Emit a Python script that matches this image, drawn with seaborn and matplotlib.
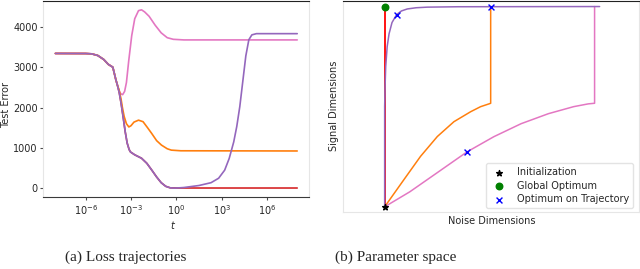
import numpy as np
import pandas as pd
import seaborn as sns
import matplotlib.pyplot as plt

sns.set_style("white")
plt.rcParams['font.family'] = ['DejaVu Sans']
plt.rcParams['font.size'] = 7

# ---- (a) loss trajectories: log10(t) and test error ----
common_logt = [-8.0, -6.0, -5.6, -5.2, -4.8, -4.5, -4.2, -4.0, -3.9]
common_err = [3340, 3338, 3330, 3290, 3190, 3070, 3000, 2690, 2560]

pink_logt = [-3.8, -3.67, -3.55, -3.42, -3.3, -3.15, -2.95, -2.75, -2.5, -2.3,
             -2.1, -1.8, -1.4, -1.0, -0.6, -0.2, 0.5, 8.0]
pink_err = [2420, 2340, 2320, 2400, 2620, 3150, 3780, 4200, 4400, 4420,
            4370, 4260, 4040, 3850, 3730, 3690, 3675, 3675]

orange_logt = [-3.78, -3.65, -3.57, -3.45, -3.3, -3.14, -3.0, -2.8, -2.5, -2.2,
               -1.9, -1.63, -1.3, -0.98, -0.6, -0.33, 0.3, 8.0]
orange_err = [2430, 2200, 2010, 1780, 1600, 1520, 1550, 1640, 1688, 1650,
              1500, 1360, 1180, 1070, 980, 946, 930, 925]

purple_logt = [-3.78, -3.65, -3.5, -3.38, -3.25, -3.12, -3.03, -2.75, -2.3, -1.95,
               -1.6, -1.3, -1.0, -0.7, -0.4, -0.1, 0.5, 1.5, 2.3, 2.8,
               3.2, 3.5, 3.8, 4.0, 4.2, 4.4, 4.6, 4.8, 5.0, 5.3, 8.0]
purple_err = [2380, 2100, 1720, 1400, 1120, 960, 900, 830, 745, 620,
              440, 280, 140, 50, 12, 5, 20, 70, 140, 250,
              450, 740, 1150, 1530, 2020, 2650, 3280, 3680, 3800, 3830, 3830]

red_logt = [-0.4, 0.0, 8.0]
red_err = [12, 8, 8]

# ---- (b) parameter space: noise / signal dimensions ----
red_noise = [0.0, 0.0]
red_signal = [0.0, 1.0]

orange_noise = [0.0, 0.09, 0.171, 0.251, 0.33, 0.41, 0.457, 0.5, 0.505, 0.505]
orange_signal = [0.0, 0.133, 0.252, 0.351, 0.425, 0.475, 0.5, 0.515, 0.517, 1.0]

pink_noise = [0.0, 0.12, 0.25, 0.392, 0.52, 0.65, 0.78, 0.9, 0.97, 1.0, 1.0]
pink_signal = [0.0, 0.075, 0.17, 0.274, 0.35, 0.415, 0.465, 0.5, 0.514, 0.517, 1.0]

purple_noise = [0.0, 0.0, 0.002, 0.005, 0.012, 0.021, 0.035, 0.057, 0.08, 0.108,
                0.15, 0.203, 0.35, 1.024]
purple_signal = [0.0, 0.5, 0.6, 0.7, 0.8, 0.864, 0.92, 0.96, 0.978, 0.988,
                 0.994, 0.997, 0.999, 1.0]

init_pt = (0.0, 0.0)
global_opt = (0.0, 1.0)
traj_opt_noise = [0.057, 0.505, 0.392]
traj_opt_signal = [0.96, 1.0, 0.274]

c_pink, c_orange, c_purple, c_red = '#e377c2', '#ff7f0e', '#9467bd', '#d62728'

fig = plt.figure(figsize=(6.4, 2.69), dpi=100)
ax1 = fig.add_axes([43.3 / 640, 1 - 197.3 / 269, 266 / 640, 197.3 / 269 - 0.002])
ax2 = fig.add_axes([343.3 / 640, 1 - 212 / 269, 296 / 640, 212 / 269 - 0.002])

# left panel
def series(logt, err):
    return pd.DataFrame({'t': 10.0 ** np.array(logt), 'err': err})

red_df = series(common_logt + purple_logt[:15] + red_logt[1:],
                common_err + purple_err[:15] + red_err[1:])
sns.lineplot(data=red_df, x='t', y='err', ax=ax1, color=c_red, lw=1.2,
             estimator=None, sort=False)
for lt, er, col in [(pink_logt, pink_err, c_pink),
                    (orange_logt, orange_err, c_orange),
                    (purple_logt, purple_err, c_purple)]:
    sns.lineplot(data=series(common_logt + lt, common_err + er), x='t', y='err',
                 ax=ax1, color=col, lw=1.2, estimator=None, sort=False)

ax1.set_xscale('log')
ax1.set_xlim(10 ** -8.8, 10 ** 8.8)
ax1.set_ylim(-222, 4650)
ax1.set_xticks([1e-6, 1e-3, 1e0, 1e3, 1e6])
ax1.minorticks_off()
ax1.set_yticks([0, 1000, 2000, 3000, 4000])
ax1.tick_params(left=True, bottom=True, length=2.5, width=0.8, color='0.3',
                pad=1.5, labelsize=7)
ax1.set_xlabel('$t$', fontsize=7)
ax1.set_ylabel('Test Error', fontsize=7)
ax1.xaxis.set_label_coords(0.488, -0.112)
ax1.yaxis.set_label_coords(-0.122, 0.47)
for s in ['left', 'right']:
    ax1.spines[s].set_color('#e6e6e6')
ax1.spines['bottom'].set_color('#3a3a3a')
ax1.spines['top'].set_color('#222222')

# right panel
sns.lineplot(x=red_noise, y=red_signal, ax=ax2, color='red', lw=1.3,
             estimator=None, sort=False)
sns.lineplot(x=orange_noise, y=orange_signal, ax=ax2, color=c_orange, lw=1.1,
             estimator=None, sort=False)
sns.lineplot(x=pink_noise, y=pink_signal, ax=ax2, color=c_pink, lw=1.1,
             estimator=None, sort=False)
sns.lineplot(x=purple_noise, y=purple_signal, ax=ax2, color=c_purple, lw=1.1,
             estimator=None, sort=False)
ax2.scatter([init_pt[0]], [init_pt[1]], marker='*', color='black', s=18,
            zorder=5, label='Initialization')
ax2.scatter([global_opt[0]], [global_opt[1]], marker='o', color='green', s=22,
            zorder=5, label='Global Optimum')
ax2.scatter(traj_opt_noise, traj_opt_signal, marker='x', color='blue', s=18,
            linewidths=1.0, zorder=6, label='Optimum on Trajectory')
ax2.set_xlim(-0.197, 1.213)
ax2.set_ylim(-0.026, 1.03)
ax2.set_xticks([])
ax2.set_yticks([])
ax2.set_xlabel('Noise Dimensions', fontsize=7)
ax2.set_ylabel('Signal Dimensions', fontsize=7)
ax2.xaxis.set_label_coords(0.5, -0.017)
ax2.yaxis.set_label_coords(-0.016, 0.5)
for s in ['left', 'right', 'bottom']:
    ax2.spines[s].set_color('#e6e6e6')
ax2.spines['top'].set_color('#222222')
ax2.legend(loc='lower right', bbox_to_anchor=(0.979, 0.019), borderaxespad=0,
           fontsize=7, labelspacing=0.35, frameon=True, edgecolor='#dddddd')

fig.text(126 / 640, 8 / 269, '(a) Loss trajectories', ha='center',
         va='baseline', fontsize=11, family='Liberation Serif')
fig.text(396 / 640, 8 / 269, '(b) Parameter space', ha='center',
         va='baseline', fontsize=11, family='Liberation Serif')

fig.savefig('out.png', dpi=100)
